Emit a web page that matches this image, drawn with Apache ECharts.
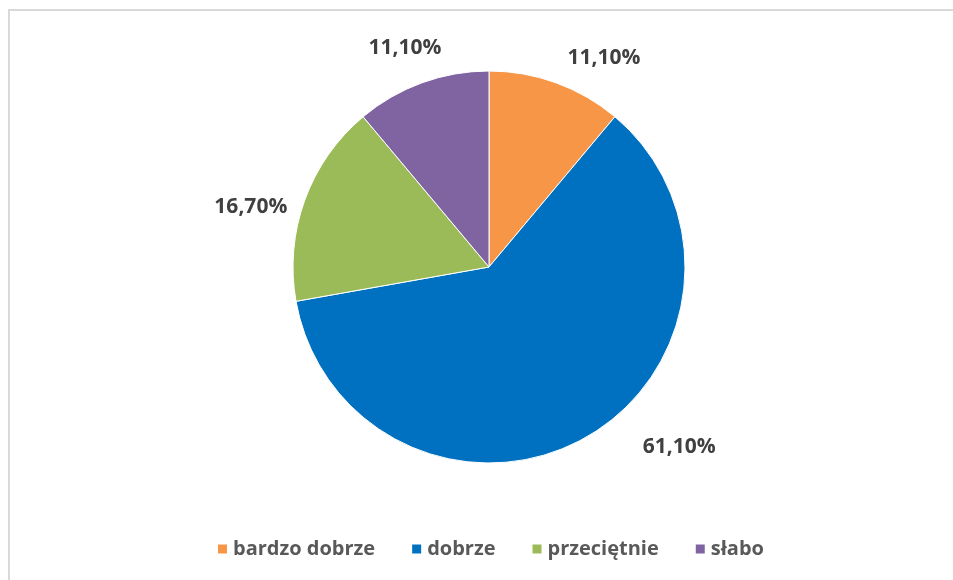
<!DOCTYPE html>
<html lang="pl">
<head>
<meta charset="UTF-8">
<title>Pie</title>
<script src="https://cdn.jsdelivr.net/npm/echarts@6/dist/echarts.min.js"></script>
<style>
  html, body { margin: 0; padding: 0; background: #fff; }
  #frame {
    position: absolute; left: 8px; top: 9px;
    width: 960px; height: 600px;
    border: 2px solid #d9d9d9; box-sizing: border-box;
  }
  #main { position: absolute; left: 0; top: 0; width: 953px; height: 580px; }
</style>
</head>
<body>
<div id="frame"></div>
<div id="main"></div>
<script>
  // data
  const categories = ['bardzo dobrze', 'dobrze', 'przeciętnie', 'słabo'];
  const shares = [11.1, 61.1, 16.7, 11.1];
  const colors = ['#F79646', '#0070C0', '#9BBB59', '#8064A2'];
  // per-slice nudges so labels sit where Excel put them
  const labelOffsets = [[-2, -1], [38, -11], [11, 16], [33, -11]];

  const chart = echarts.init(document.getElementById('main'));
  const font = '"Open Sans", "DejaVu Sans", sans-serif';

  chart.setOption({
    animation: false,
    legend: {
      bottom: 16,
      left: 211,
      itemWidth: 11,
      itemHeight: 11,
      itemGap: 35,
      icon: 'rect',
      textStyle: { color: '#595959', fontSize: 20, fontWeight: 'bold', fontFamily: font },
      data: categories
    },
    series: [{
      type: 'pie',
      center: [489, 267],
      radius: 196,
      startAngle: 90,
      clockwise: true,
      itemStyle: { borderColor: '#fff', borderWidth: 1 },
      label: {
        position: 'outside',
        color: '#404040',
        fontSize: 21,
        fontWeight: 'bold',
        fontFamily: font,
        formatter: p => p.value.toFixed(2).replace('.', ',') + '%'
      },
      labelLine: { show: false, length: 25, length2: 0 },
      data: categories.map((c, i) => ({
        name: c,
        value: shares[i],
        itemStyle: { color: colors[i] },
        label: { offset: labelOffsets[i] }
      }))
    }]
  });
</script>
</body>
</html>
